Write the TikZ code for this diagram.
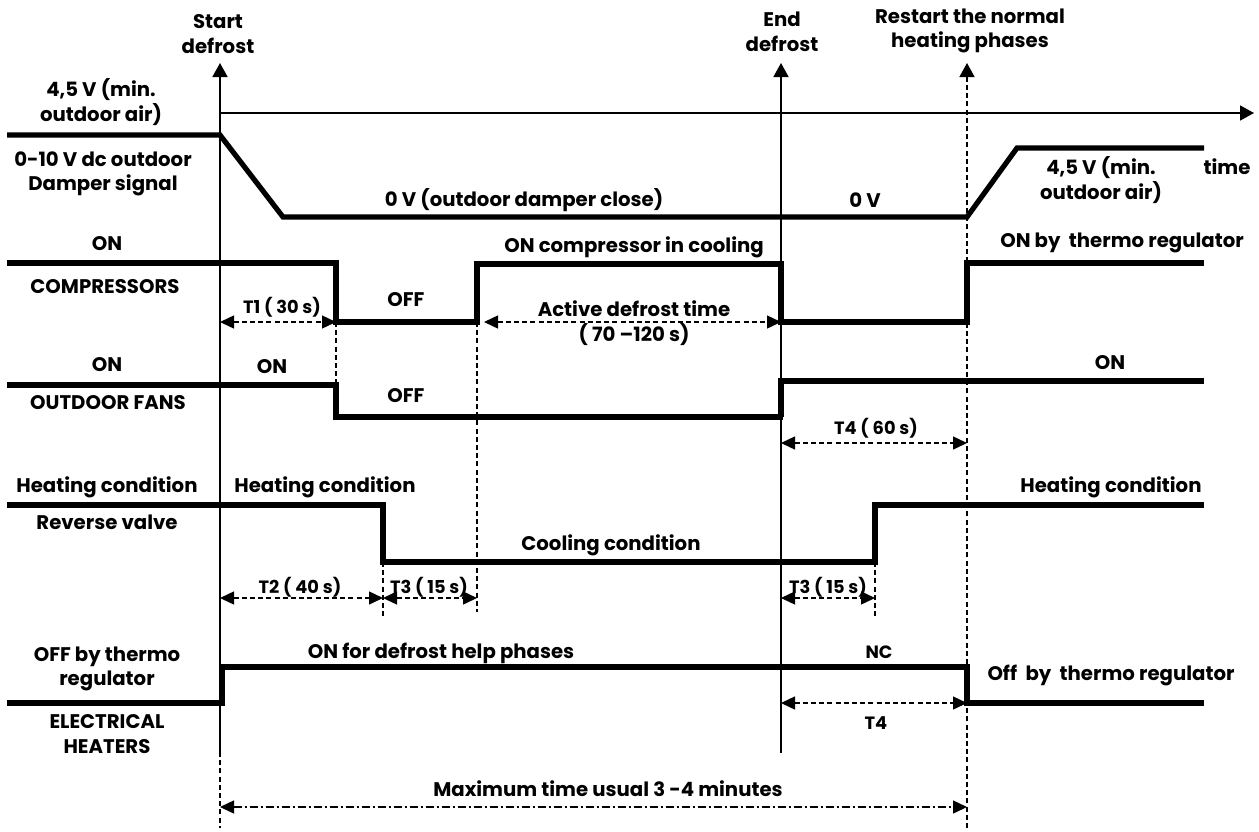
\documentclass[tikz,border=0pt]{standalone}
\usepackage{fontspec}
\setmainfont{Poppins}
\usepackage{tikz}
\usetikzlibrary{arrows.meta}
\newcommand{\dimarrow}[5]{
  \coordinate (#1a) at (#3,#5);
  \coordinate (#1b) at (#4,#5);
  \draw[#2] (#1a) -- (#1b);
}

\begin{document}
\begin{tikzpicture}[x=0.5pt,y=-0.5pt,
  sig/.style={line width=2.6pt},
  thinline/.style={line width=0.85pt},
  guide/.style={line width=0.7pt,dash pattern=on 2.5pt off 1.6pt},
  tip/.style={-{Triangle[length=7pt,width=7.5pt]}},
  dimboth/.style={guide,{Triangle[length=7pt,width=6.5pt]}-{Triangle[length=7pt,width=6.5pt]}},
  dimdot/.style={line width=0.7pt,dash pattern=on 4pt off 1.5pt on 1pt off 1.5pt,
    {Triangle[length=7pt,width=6.5pt]}-{Triangle[length=7pt,width=6.5pt]}},
  lbl/.style={font=\bfseries\fontsize{9.85}{12.3}\selectfont,align=center,inner sep=0pt},
  small/.style={font=\bfseries\fontsize{8.9}{9.5}\selectfont,inner sep=0pt}]
  \useasboundingbox (0,0) rectangle (1259,831);

  % time axis and event lines
  \draw[thinline,tip] (220,113) -- (1254,113);
  \draw[thinline,tip] (220,752) -- (220,63);
  \draw[guide] (220,752) -- (220,828);
  \draw[thinline,tip] (781,753) -- (781,63);
  \draw[guide,tip] (967,828) -- (967,63);

  % signals
  \draw[sig] (7,135) -- (220,135) -- (283,217) -- (967,217) -- (1017,148) -- (1204,148);
  \draw[sig] (7,263) -- (336,263) -- (336,322) -- (477,322) -- (477,264) -- (781,264)
    -- (781,322) -- (967,322) -- (967,263) -- (1204,263);
  \draw[sig] (7,385) -- (336,385) -- (336,417) -- (783,417);
  \draw[sig] (781,417) -- (781,381) -- (1204,381);
  \draw[sig] (7,505) -- (383,505) -- (383,562) -- (875,562) -- (875,505) -- (1204,505);
  \draw[sig] (7,703) -- (222,703) -- (222,667) -- (967,667) -- (967,703) -- (1204,703);

  % dashed guides
  \draw[guide] (336,322) -- (336,385);
  \draw[guide] (477,322) -- (477,612);
  \draw[guide] (383,562) -- (383,618);
  \draw[guide] (875,562) -- (875,618);

  % time spans
  \dimarrow{tone}{dimboth}{220}{336}{322}
  \dimarrow{act}{dimboth}{484}{781}{322}
  \dimarrow{tfour}{dimboth}{781}{967}{443}
  \dimarrow{ttwo}{dimboth}{220}{383}{598}
  \dimarrow{tthree}{dimboth}{383}{477}{598}
  \dimarrow{tthreeb}{dimboth}{781}{875}{598}
  \dimarrow{tfourb}{dimboth}{781}{967}{703}
  \dimarrow{tmax}{dimdot}{220}{967}{807}

  % labels
  \node[lbl] (startlbl) at (218,34) {Start\\defrost};
  \node[lbl] (endlbl) at (782,32) {End\\defrost};
  \node[lbl] (restartlbl) at (970,31) {Restart the normal\\heating phases};
  \node[lbl] (minl) at (101,102) {4,5 V (min.\\outdoor air)};
  \node[lbl] (damperl) at (103,174) {0-10 V dc outdoor\\Damper signal};
  \node[lbl] (zerov) at (524,200) {0 V (outdoor damper close)};
  \node[lbl] (zerovb) at (865,200) {0 V};
  \node[lbl] (minr) at (1101,180) {4,5 V (min.\\outdoor air)};
  \node[lbl] (timel) at (1227,167) {time};
  \node[lbl] (compon) at (107,244) {ON};
  \node[lbl] (compl) at (105,287) {COMPRESSORS};
  \node[small] (tonel) at (282,307) {T1 ( 30 s)};
  \node[lbl] (compoff) at (406,300) {OFF};
  \node[lbl] (compcool) at (634,247) {ON compressor in cooling};
  \node[lbl] (comptherm) at (1122,243) {ON by\ \ thermo regulator};
  \node[lbl] (actl) at (634,323) {Active defrost time\\( 70 --120 s)};
  \node[lbl] (fanon) at (107,365) {ON};
  \node[lbl] (fanonb) at (272,367) {ON};
  \node[lbl] (fanl) at (108,403) {OUTDOOR FANS};
  \node[lbl] (fanoff) at (406,396) {OFF};
  \node[lbl] (fanonc) at (1110,363) {ON};
  \node[small] (tfourl) at (876,428) {T4 ( 60 s)};
  \node[lbl] (heatl) at (107,487) {Heating condition};
  \node[lbl] (heatb) at (325,487) {Heating condition};
  \node[lbl] (valvel) at (107,522) {Reverse valve};
  \node[lbl] (cool) at (611,545) {Cooling condition};
  \node[lbl] (heatc) at (1111,487) {Heating condition};
  \node[small] (ttwol) at (300,587) {T2 ( 40 s)};
  \node[small] (tthreel) at (429,587) {T3 ( 15 s)};
  \node[small] (tthreebl) at (828,587) {T3 ( 15 s)};
  \node[lbl] (offl) at (107,669) {OFF by thermo\\regulator};
  \node[lbl] (heaterl) at (107,734) {ELECTRICAL\\HEATERS};
  \node[lbl] (helpon) at (441,653) {ON for defrost help phases};
  \node[small] (nc) at (879,652) {NC};
  \node[lbl] (offr) at (1111,675) {Off\ \ by\ \ thermo regulator};
  \node[small] (tfourbl) at (876,723) {T4};
  \node[lbl] (maxl) at (608,789) {Maximum time usual 3 -4 minutes};
\end{tikzpicture}
\end{document}
